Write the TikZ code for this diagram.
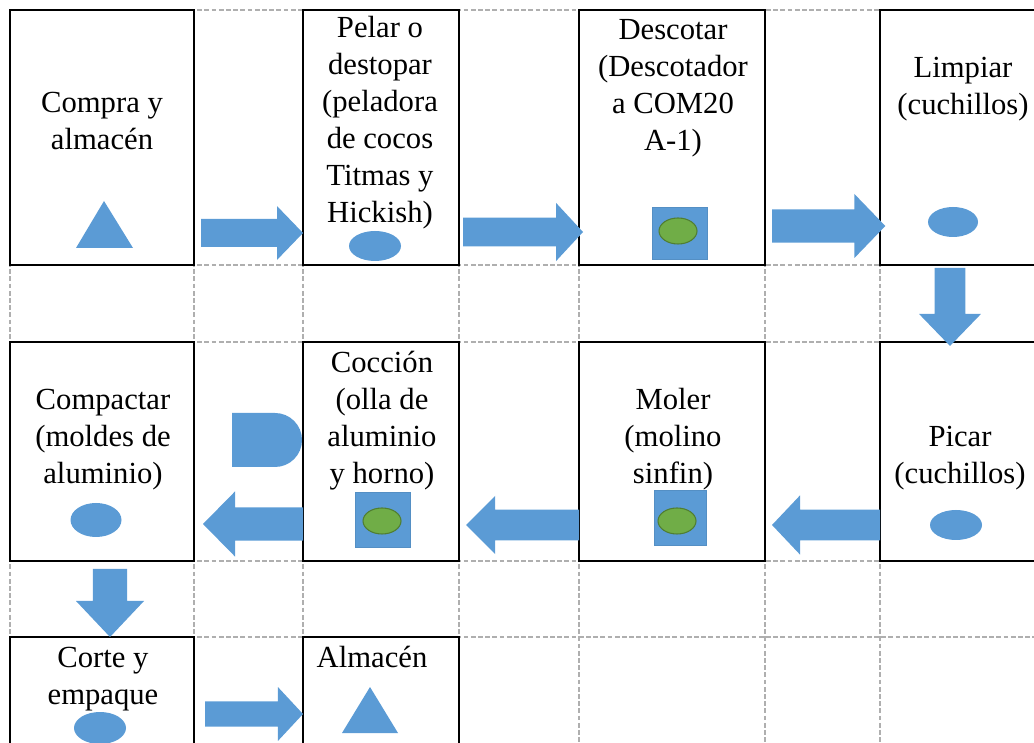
\documentclass[tikz,border=0pt]{standalone}
\usepackage{fontspec}
\setmainfont{Liberation Serif}
\usetikzlibrary{calc}
\definecolor{shapeblue}{RGB}{91,155,213}
\definecolor{innergreen}{RGB}{112,173,71}
\definecolor{greenedge}{RGB}{80,126,50}
\definecolor{gridgray}{RGB}{175,175,175}
\tikzset{
  stepbox/.style={draw, line width=0.6pt, inner sep=0pt, outer sep=0pt, anchor=north west},
  steptext/.style={text width=90pt, align=flush center, inner sep=0pt, anchor=base,
    font=\fontsize{11.5}{13.875}\selectfont},
  gridline/.style={draw=gridgray, line width=0.4pt, dash pattern=on 1.8pt off 0.9pt},
  symbol/.style={fill=shapeblue},
  machine/.style={fill=shapeblue, draw=shapeblue!92!black, line width=0.3pt},
  part/.style={fill=innergreen, draw=greenedge, line width=0.4pt},
  % block arrow: shaft half width / head half width / head length
  blockarrow/.style args={#1/#2/#3}{to path={
    ($(\tikztostart)!#1!90:(\tikztotarget)$)
    -- ($(\tikztotarget)!#3!(\tikztostart)!#1!90:(\tikztotarget)$)
    -- ($(\tikztotarget)!#3!(\tikztostart)!#2!90:(\tikztotarget)$)
    -- (\tikztotarget)
    -- ($(\tikztotarget)!#3!(\tikztostart)!#2!-90:(\tikztotarget)$)
    -- ($(\tikztotarget)!#3!(\tikztostart)!#1!-90:(\tikztotarget)$)
    -- ($(\tikztostart)!#1!-90:(\tikztotarget)$) -- cycle}}
}
\begin{document}
\begin{tikzpicture}[x=0.375pt, y=-0.375pt]
  \useasboundingbox (0,0) rectangle (1034,743);
  % table grid
  \foreach \gx in {10,194,303,459,579,765,880,1040}
    \draw[gridline] (\gx,10) -- (\gx,760);
  \foreach \gy in {10,265,342,561,637}
    \draw[gridline] (10,\gy) -- (1040,\gy);

  % process cells
  \node[stepbox, minimum width=69pt, minimum height=95.625pt] (compra) at (10,10) {};
  \node[stepbox, minimum width=58.5pt, minimum height=95.625pt] (pelar) at (303,10) {};
  \node[stepbox, minimum width=69.75pt, minimum height=95.625pt] (descotar) at (579,10) {};
  \node[stepbox, minimum width=60pt, minimum height=95.625pt] (limpiar) at (880,10) {};
  \node[stepbox, minimum width=69pt, minimum height=82.125pt] (compactar) at (10,342) {};
  \node[stepbox, minimum width=58.5pt, minimum height=82.125pt] (coccion) at (303,342) {};
  \node[stepbox, minimum width=69.75pt, minimum height=82.125pt] (moler) at (579,342) {};
  \node[stepbox, minimum width=60pt, minimum height=82.125pt] (picar) at (880,342) {};
  \node[stepbox, minimum width=69pt, minimum height=48.75pt] (corte) at (10,637) {};
  \node[stepbox, minimum width=58.5pt, minimum height=48.75pt] (almacen) at (303,637) {};

  % texts
  \node[steptext] (tcompra) at (102,113) {Compra y\\almacén};
  \node[steptext] (tpelar) at (380,38) {Pelar o\\destopar\\(peladora\\de cocos\\Titmas y\\Hickish)};
  \node[steptext] (tdescotar) at (673,40) {Descotar\\(Descotador\\a COM20\\A-1)};
  \node[steptext] (tlimpiar) at (963,78) {Limpiar\\(cuchillos)};
  \node[steptext] (tcompactar) at (103,410) {Compactar\\(moldes de\\aluminio)};
  \node[steptext] (tcoccion) at (382,373) {Cocción\\(olla de\\aluminio\\y horno)};
  \node[steptext] (tmoler) at (673,410) {Moler\\(molino\\sinfin)};
  \node[steptext] (tpicar) at (960,447) {Picar\\(cuchillos)};
  \node[steptext] (tcorte) at (103,668) {Corte y\\empaque};
  \node[steptext] (talmacen) at (372,667) {Almacén};

  % symbols
  \fill[symbol] (104,201) -- (133,248) -- (76,248) -- cycle;
  \fill[symbol] (375,246) ellipse[x radius=26, y radius=15];
  \filldraw[machine] (652,207) rectangle (707,259);
  \filldraw[part] (678,231) ellipse[x radius=19, y radius=13];
  \fill[symbol] (953,222) ellipse[x radius=25, y radius=15];
  \fill[symbol] (956,525) ellipse[x radius=26, y radius=15];
  \filldraw[machine] (654,490) rectangle (706,545);
  \filldraw[part] (677,521) ellipse[x radius=19, y radius=13];
  \filldraw[machine] (355,492) rectangle (410,547);
  \filldraw[part] (382,521) ellipse[x radius=19, y radius=13];
  \fill[symbol] (232,413) -- (275,413) arc[start angle=-90, end angle=90, radius=27] -- (232,467) -- cycle;
  \fill[symbol] (96,520) ellipse[x radius=25.5, y radius=17];
  \fill[symbol] (100,728) ellipse[x radius=26, y radius=16];
  \fill[symbol] (370,687) -- (398,733) -- (342,733) -- cycle;

  % flow arrows
  \coordinate (a1) at (201,233);
  \coordinate (a2) at (463,232);
  \coordinate (a3) at (772,226);
  \coordinate (a4) at (950,268);
  \coordinate (a5) at (772,525);
  \coordinate (a6) at (466,525);
  \coordinate (a7) at (203,524);
  \coordinate (a8) at (110,569);
  \coordinate (a9) at (205,714);
  \fill[shapeblue] (a1) to[blockarrow=5.25pt/10.1pt/9.75pt] (a1 -| pelar.west);
  \fill[shapeblue] (a2) to[blockarrow=5.4pt/10.9pt/10.1pt] ([xshift=1.5pt]a2 -| descotar.west);
  \fill[shapeblue] (a3) to[blockarrow=6.2pt/12pt/11.6pt] ([xshift=2pt]a3 -| limpiar.west);
  \fill[shapeblue] (a4) to[blockarrow=5.8pt/11.6pt/12pt] ([yshift=-1.5pt]a4 |- picar.north);
  \fill[shapeblue] (a5 -| picar.west) to[blockarrow=5.8pt/11.1pt/10.5pt] (a5);
  \fill[shapeblue] (a6 -| moler.west) to[blockarrow=5.8pt/10.9pt/10.9pt] (a6);
  \fill[shapeblue] (a7 -| coccion.west) to[blockarrow=6.2pt/12.2pt/12pt] (a7);
  \fill[shapeblue] (a8) to[blockarrow=6.4pt/12.75pt/13.5pt] (a8 |- corte.north);
  \fill[shapeblue] (a9) to[blockarrow=4.7pt/10.1pt/9.4pt] (a9 -| almacen.west);
\end{tikzpicture}
\end{document}
